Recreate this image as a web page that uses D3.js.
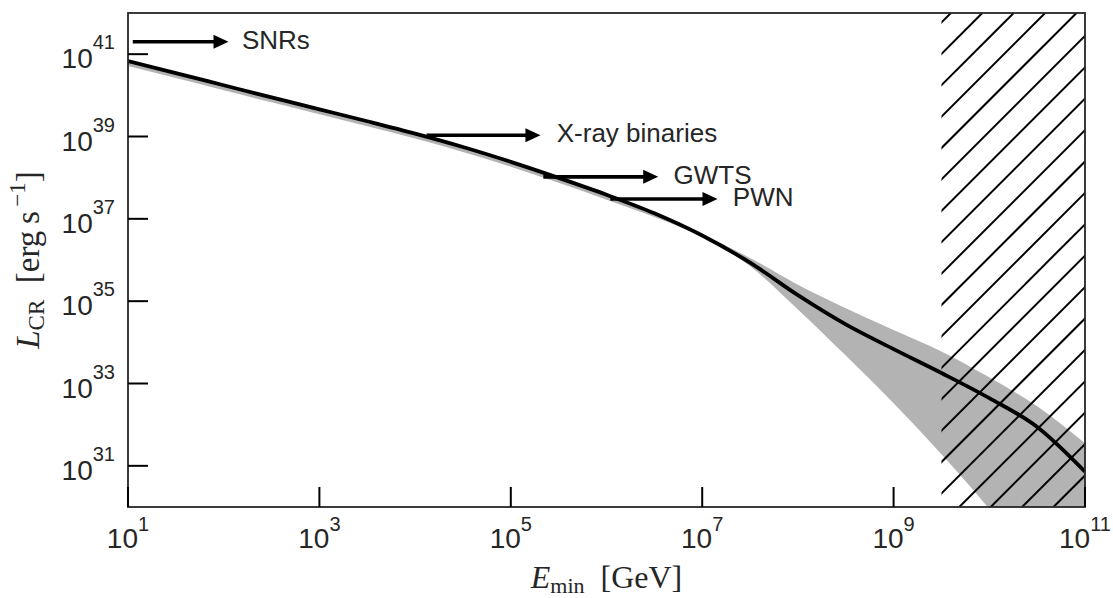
<!DOCTYPE html>
<html>
<head>
<meta charset="utf-8">
<script src="https://cdn.jsdelivr.net/npm/d3@7"></script>
<style>
  html, body { margin: 0; padding: 0; background: #fff; }
  svg { display: block; }
</style>
</head>
<body>
<svg id="chart" width="1113" height="598"></svg>
<script>
// ---- data (log10 values) ----
const logEnergy = [1, 1.5, 2, 2.5, 3, 3.5, 4, 4.5, 5, 5.5, 6, 6.5, 7, 7.5, 8, 8.5, 9, 9.5, 10, 10.5, 11];
const logLumCentral = [40.83, 40.54, 40.245, 39.95, 39.66, 39.37, 39.07, 38.745, 38.385, 37.995, 37.585, 37.135, 36.595, 35.935, 35.145, 34.435, 33.835, 33.255, 32.645, 31.945, 30.86];
const logLumUpper   = [40.86, 40.57, 40.275, 39.98, 39.69, 39.40, 39.10, 38.775, 38.415, 38.025, 37.615, 37.165, 36.625, 36.05, 35.40, 34.83, 34.30, 33.78, 33.15, 32.45, 31.55];
const logLumLower   = [40.71, 40.42, 40.125, 39.83, 39.54, 39.25, 38.95, 38.625, 38.265, 37.875, 37.465, 37.045, 36.56, 35.85, 34.80, 33.68, 32.52, 31.28, 29.95, 28.50, 27.00];

const sourceLabels   = ["SNRs", "X-ray binaries", "GWTS", "PWN"];
const arrowFromLogE  = [1.05, 4.12, 5.34, 6.04];
const arrowToLogE    = [2.05, 5.31, 6.54, 7.16];
const arrowLogL      = [41.30, 39.03, 38.02, 37.48];
const labelLogE      = [2.19, 5.48, 6.70, 7.32];

const hatchFromLogE = 9.5;     // excluded region start
const xTickExps = [1, 3, 5, 7, 9, 11];
const yTickExps = [31, 33, 35, 37, 39, 41];
const xDomain = [1e1, 1e11];
const yDomain = [1e30, 1e42];

// ---- layout ----
const W = 1113, H = 598;
const m = {left: 128, right: 1113 - 1085, top: 13, bottom: 598 - 507};
const svg = d3.select("#chart");
const x = d3.scaleLog().domain(xDomain).range([m.left, W - m.right]);
const y = d3.scaleLog().domain(yDomain).range([H - m.bottom, m.top]);
const pw = x.range()[1] - x.range()[0];
const ph = y.range()[0] - y.range()[1];

const ink = "#262626";
const sans = "'Liberation Sans', Arial, 'DejaVu Sans', sans-serif";
const serif = "'Liberation Serif', 'Times New Roman', 'DejaVu Serif', serif";

svg.append("rect").attr("width", W).attr("height", H).attr("fill", "#fff");

const defs = svg.append("defs");
defs.append("clipPath").attr("id", "plotClip").append("rect")
  .attr("x", m.left).attr("y", m.top).attr("width", pw).attr("height", ph);
const hx0 = x(Math.pow(10, hatchFromLogE));
defs.append("clipPath").attr("id", "hatchClip").append("rect")
  .attr("x", hx0).attr("y", m.top).attr("width", x.range()[1] - hx0).attr("height", ph);

const pts = logEnergy.map((e, i) => ({
  E: Math.pow(10, e),
  c: Math.pow(10, logLumCentral[i]),
  u: Math.pow(10, logLumUpper[i]),
  l: Math.pow(10, logLumLower[i])
}));

const plot = svg.append("g").attr("clip-path", "url(#plotClip)");

// band
plot.append("path")
  .datum(pts)
  .attr("d", d3.area().x(d => x(d.E)).y0(d => y(d.l)).y1(d => y(d.u)).curve(d3.curveMonotoneX))
  .attr("fill", "#b3b3b3");

// central curve
plot.append("path")
  .datum(pts)
  .attr("d", d3.line().x(d => x(d.E)).y(d => y(d.c)).curve(d3.curveMonotoneX))
  .attr("fill", "none").attr("stroke", "#000").attr("stroke-width", 3.8)
  .attr("stroke-linejoin", "round");

// hatch
const hg = svg.append("g").attr("clip-path", "url(#hatchClip)");
const spacing = 31.4, phase = 1246.5;
const yTop = m.top, yBot = H - m.bottom;
const cMin = hx0 + yTop, cMax = x.range()[1] + yBot;
let c0 = phase - Math.ceil((phase - cMin) / spacing) * spacing;
const hatchCs = d3.range(c0, cMax + spacing, spacing);
hg.selectAll("line").data(hatchCs).join("line")
  .attr("x1", c => c - yBot).attr("y1", yBot)
  .attr("x2", c => c - yTop).attr("y2", yTop)
  .attr("stroke", "#000").attr("stroke-width", 2);

// arrows + labels
const ann = svg.append("g");
sourceLabels.forEach((lab, i) => {
  const xa = x(Math.pow(10, arrowFromLogE[i]));
  const xb = x(Math.pow(10, arrowToLogE[i]));
  const ya = y(Math.pow(10, arrowLogL[i]));
  const headL = 15, headW = 7;
  ann.append("line").attr("x1", xa).attr("x2", xb - headL + 1).attr("y1", ya).attr("y2", ya)
    .attr("stroke", "#000").attr("stroke-width", 3.6);
  ann.append("path")
    .attr("d", `M${xb},${ya} L${xb - headL},${ya - headW} L${xb - headL},${ya + headW} Z`)
    .attr("fill", "#000");
  ann.append("text")
    .attr("x", x(Math.pow(10, labelLogE[i]))).attr("y", ya + 7)
    .attr("font-family", sans).attr("font-size", 26).attr("fill", ink)
    .text(lab);
});

// spines
svg.append("rect").attr("x", m.left).attr("y", m.top).attr("width", pw).attr("height", ph)
  .attr("fill", "none").attr("stroke", ink).attr("stroke-width", 1.8);

// ticks (inward)
const tickLen = 20;
svg.append("g").selectAll("line").data(xTickExps).join("line")
  .attr("x1", d => x(Math.pow(10, d))).attr("x2", d => x(Math.pow(10, d)))
  .attr("y1", yBot).attr("y2", yBot - tickLen)
  .attr("stroke", "#000").attr("stroke-width", 2);
svg.append("g").selectAll("line").data(yTickExps).join("line")
  .attr("y1", d => y(Math.pow(10, d))).attr("y2", d => y(Math.pow(10, d)))
  .attr("x1", m.left).attr("x2", m.left + tickLen)
  .attr("stroke", "#000").attr("stroke-width", 2);

// tick labels
const xl = svg.append("g").attr("font-family", sans).attr("fill", ink);
xTickExps.forEach(d => {
  const t = xl.append("text").attr("x", x(Math.pow(10, d))).attr("y", yBot + 41)
    .attr("text-anchor", "middle");
  t.append("tspan").attr("font-size", 28).text("10");
  t.append("tspan").attr("font-size", 20).attr("dy", -17).text(d);
});
const yl = svg.append("g").attr("font-family", sans).attr("fill", ink);
yTickExps.forEach(d => {
  const t = yl.append("text").attr("x", m.left - 13).attr("y", y(Math.pow(10, d)) + 14)
    .attr("text-anchor", "end");
  t.append("tspan").attr("font-size", 28).text("10");
  t.append("tspan").attr("font-size", 20).attr("dy", -19).text(d);
});

// axis labels
const xLab = svg.append("text").attr("x", (x.range()[0] + x.range()[1]) / 2).attr("y", 588)
  .attr("text-anchor", "middle").attr("font-family", serif).attr("fill", ink).attr("font-size", 32);
xLab.append("tspan").attr("font-style", "italic").text("E");
xLab.append("tspan").attr("font-size", 22).attr("dy", 5).text("min");
xLab.append("tspan").attr("dy", -5).text("\u2002[GeV]");

const yLab = svg.append("text")
  .attr("transform", `translate(39,${(y.range()[0] + y.range()[1]) / 2}) rotate(-90)`)
  .attr("text-anchor", "middle").attr("font-family", serif).attr("fill", ink).attr("font-size", 33);
yLab.append("tspan").attr("font-style", "italic").text("L");
yLab.append("tspan").attr("font-size", 23).attr("dy", 5).text("CR");
yLab.append("tspan").attr("dy", -5).text("\u2002[erg\u2009s");
yLab.append("tspan").attr("font-size", 23).attr("dy", -14).text("\u2009\u22121");
yLab.append("tspan").attr("dy", 14).text("]");
</script>
</body>
</html>
